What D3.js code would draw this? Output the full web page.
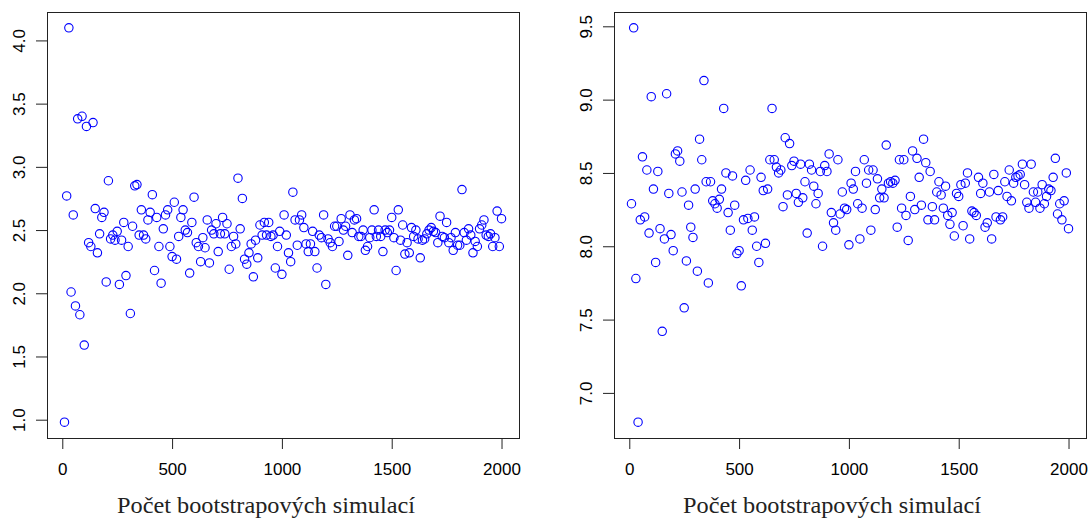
<!DOCTYPE html>
<html>
<head>
<meta charset="utf-8">
<script src="https://cdn.jsdelivr.net/npm/d3@7"></script>
<style>
	body { margin: 0; background: #fff; }
	svg { display: block; }
	.tick text { font-family: "Liberation Sans", Arial, sans-serif; font-size: 17px; fill: #000; }
	.xlab { font-family: "Liberation Serif", "DejaVu Serif", serif; font-size: 23px; fill: #222; }
</style>
</head>
<body>
<script>
// number of bootstrap simulations (10, 20, ..., 2000)
const simCounts = d3.range(10, 2001, 10);

// left panel, one value per simulation count
const leftValues = [
	0.98, 2.77, 4.10, 2.01, 2.62, 1.90, 3.38, 1.83, 3.40, 1.59,
	3.32, 2.40, 2.37, 3.35, 2.67, 2.32, 2.47, 2.60, 2.64, 2.09,
	2.89, 2.43, 2.46, 2.42, 2.49, 2.07, 2.42, 2.56, 2.14, 2.37,
	1.84, 2.53, 2.85, 2.86, 2.46, 2.66, 2.46, 2.43, 2.58, 2.64,
	2.78, 2.18, 2.60, 2.37, 2.08, 2.51, 2.62, 2.66, 2.37, 2.29,
	2.72, 2.27, 2.45, 2.60, 2.66, 2.50, 2.48, 2.16, 2.56, 2.76,
	2.40, 2.37, 2.25, 2.44, 2.36, 2.58, 2.24, 2.50, 2.47, 2.55,
	2.33, 2.47, 2.60, 2.47, 2.55, 2.19, 2.37, 2.45, 2.39, 2.91,
	2.51, 2.75, 2.27, 2.23, 2.32, 2.39, 2.13, 2.42, 2.28, 2.54,
	2.46, 2.56, 2.46, 2.56, 2.45, 2.46, 2.20, 2.37, 2.49, 2.15,
	2.62, 2.46, 2.32, 2.25, 2.80, 2.58, 2.38, 2.58, 2.62, 2.52,
	2.39, 2.33, 2.39, 2.49, 2.33, 2.20, 2.46, 2.44, 2.62, 2.07,
	2.43, 2.40, 2.37, 2.53, 2.53, 2.41, 2.59, 2.50, 2.53, 2.30,
	2.62, 2.48, 2.58, 2.59, 2.45, 2.45, 2.50, 2.34, 2.37, 2.44,
	2.50, 2.66, 2.45, 2.50, 2.45, 2.33, 2.50, 2.48, 2.50, 2.60,
	2.44, 2.18, 2.66, 2.42, 2.54, 2.31, 2.40, 2.32, 2.52, 2.45,
	2.50, 2.43, 2.28, 2.42, 2.43, 2.47, 2.50, 2.52, 2.49, 2.48,
	2.40, 2.61, 2.45, 2.44, 2.56, 2.40, 2.44, 2.34, 2.48, 2.38,
	2.38, 2.82, 2.48, 2.42, 2.51, 2.46, 2.32, 2.41, 2.37, 2.51,
	2.54, 2.58, 2.46, 2.45, 2.47, 2.37, 2.44, 2.65, 2.37, 2.59
];

// right panel
const rightValues = [
	8.29, 9.49, 7.78, 6.80, 8.18, 8.61, 8.20, 8.52, 8.09, 9.02,
	8.39, 7.89, 8.51, 8.12, 7.42, 8.05, 9.04, 8.36, 8.08, 7.97,
	8.63, 8.65, 8.58, 8.37, 7.58, 7.90, 8.28, 8.13, 8.06, 8.39,
	7.83, 8.73, 8.59, 9.13, 8.44, 7.75, 8.44, 8.31, 8.29, 8.26,
	8.32, 8.39, 8.94, 8.50, 8.23, 8.11, 8.48, 8.28, 7.95, 7.97,
	7.73, 8.18, 8.45, 8.19, 8.52, 8.11, 8.20, 8.00, 7.89, 8.47,
	8.38, 8.02, 8.39, 8.59, 8.94, 8.59, 8.54, 8.50, 8.52, 8.27,
	8.74, 8.35, 8.70, 8.55, 8.58, 8.36, 8.30, 8.56, 8.33, 8.44,
	8.09, 8.56, 8.52, 8.41, 8.29, 8.36, 8.51, 8.00, 8.55, 8.51,
	8.63, 8.23, 8.16, 8.11, 8.59, 8.22, 8.37, 8.26, 8.25, 8.01,
	8.43, 8.39, 8.51, 8.29, 8.05, 8.26, 8.59, 8.43, 8.52, 8.11,
	8.52, 8.25, 8.46, 8.33, 8.39, 8.33, 8.69, 8.43, 8.44, 8.43,
	8.45, 8.13, 8.59, 8.26, 8.59, 8.21, 8.04, 8.34, 8.65, 8.25,
	8.60, 8.47, 8.28, 8.73, 8.57, 8.18, 8.51, 8.27, 8.18, 8.37,
	8.44, 8.35, 8.26, 8.41, 8.21, 8.15, 8.23, 8.07, 8.36, 8.34,
	8.42, 8.14, 8.43, 8.50, 8.05, 8.24, 8.23, 8.21, 8.47, 8.36,
	8.43, 8.13, 8.16, 8.37, 8.05, 8.49, 8.20, 8.38, 8.18, 8.20,
	8.44, 8.34, 8.52, 8.31, 8.43, 8.47, 8.48, 8.49, 8.56, 8.42,
	8.30, 8.26, 8.56, 8.37, 8.30, 8.37, 8.26, 8.42, 8.29, 8.34,
	8.39, 8.38, 8.47, 8.60, 8.22, 8.29, 8.18, 8.31, 8.50, 8.12
];

const xTicks = [0, 500, 1000, 1500, 2000];
const leftYTicks = [1.0, 1.5, 2.0, 2.5, 3.0, 3.5, 4.0];
const rightYTicks = [7.0, 7.5, 8.0, 8.5, 9.0, 9.5];
const xTitle = "Počet bootstrapových simulací";

const width = 1091;
const height = 518;

const svg = d3.select("body")
	.append("svg")
	.attr("width", width)
	.attr("height", height);

// R style range: data extent stretched by 4% on each side
function padded(ext) {
	const p = (ext[1] - ext[0]) * 0.04;
	return [ext[0] - p, ext[1] + p];
}

const drawPanel = (left, values, yTicks, titleX) => {
	const plotW = 472, top = 12, bottom = 438;

	const xScale = d3.scaleLinear()
		.domain(padded(d3.extent(simCounts)))
		.range([left, left + plotW]);

	const yScale = d3.scaleLinear()
		.domain(padded(d3.extent(values)))
		.range([bottom, top]);

	const g = svg.append("g");

	// x axis
	const xa = g.append("g")
		.attr("transform", `translate(0, ${bottom})`)
		.call(d3.axisBottom(xScale)
			.tickValues(xTicks)
			.tickSize(11)
			.tickPadding(14)
			.tickFormat(d3.format("d")));
	xa.select(".domain").remove();
	xa.selectAll("line").attr("stroke", "#222");

	// y axis, labels turned parallel to the axis
	const ya = g.append("g")
		.attr("transform", `translate(${left}, 0)`)
		.call(d3.axisLeft(yScale)
			.tickValues(yTicks)
			.tickSize(11)
			.tickFormat(""));
	ya.select(".domain").remove();
	ya.selectAll("line").attr("stroke", "#222");
	ya.selectAll(".tick")
		.append("text")
		.attr("transform", "rotate(-90)")
		.attr("y", -22)
		.attr("text-anchor", "middle")
		.text(d => d3.format(".1f")(d));

	// box
	g.append("rect")
		.attr("x", left + 0.5)
		.attr("y", top + 0.5)
		.attr("width", plotW)
		.attr("height", bottom - top)
		.attr("fill", "none")
		.attr("stroke", "#222")
		.attr("stroke-width", 1);

	// points
	g.selectAll(".pt")
		.data(values)
		.enter()
		.append("circle")
		.attr("class", "pt")
		.attr("cx", (d, i) => xScale(simCounts[i]))
		.attr("cy", d => yScale(d))
		.attr("r", 4.2)
		.attr("fill", "none")
		.attr("stroke", "#0000ff")
		.attr("stroke-width", 1.1);

	g.append("text")
		.attr("class", "xlab")
		.attr("x", titleX)
		.attr("y", 513)
		.attr("text-anchor", "middle")
		.attr("textLength", 298)
		.attr("lengthAdjust", "spacingAndGlyphs")
		.text(xTitle);
};

drawPanel(47, leftValues, leftYTicks, 266);
drawPanel(614, rightValues, rightYTicks, 832);
</script>
</body>
</html>
